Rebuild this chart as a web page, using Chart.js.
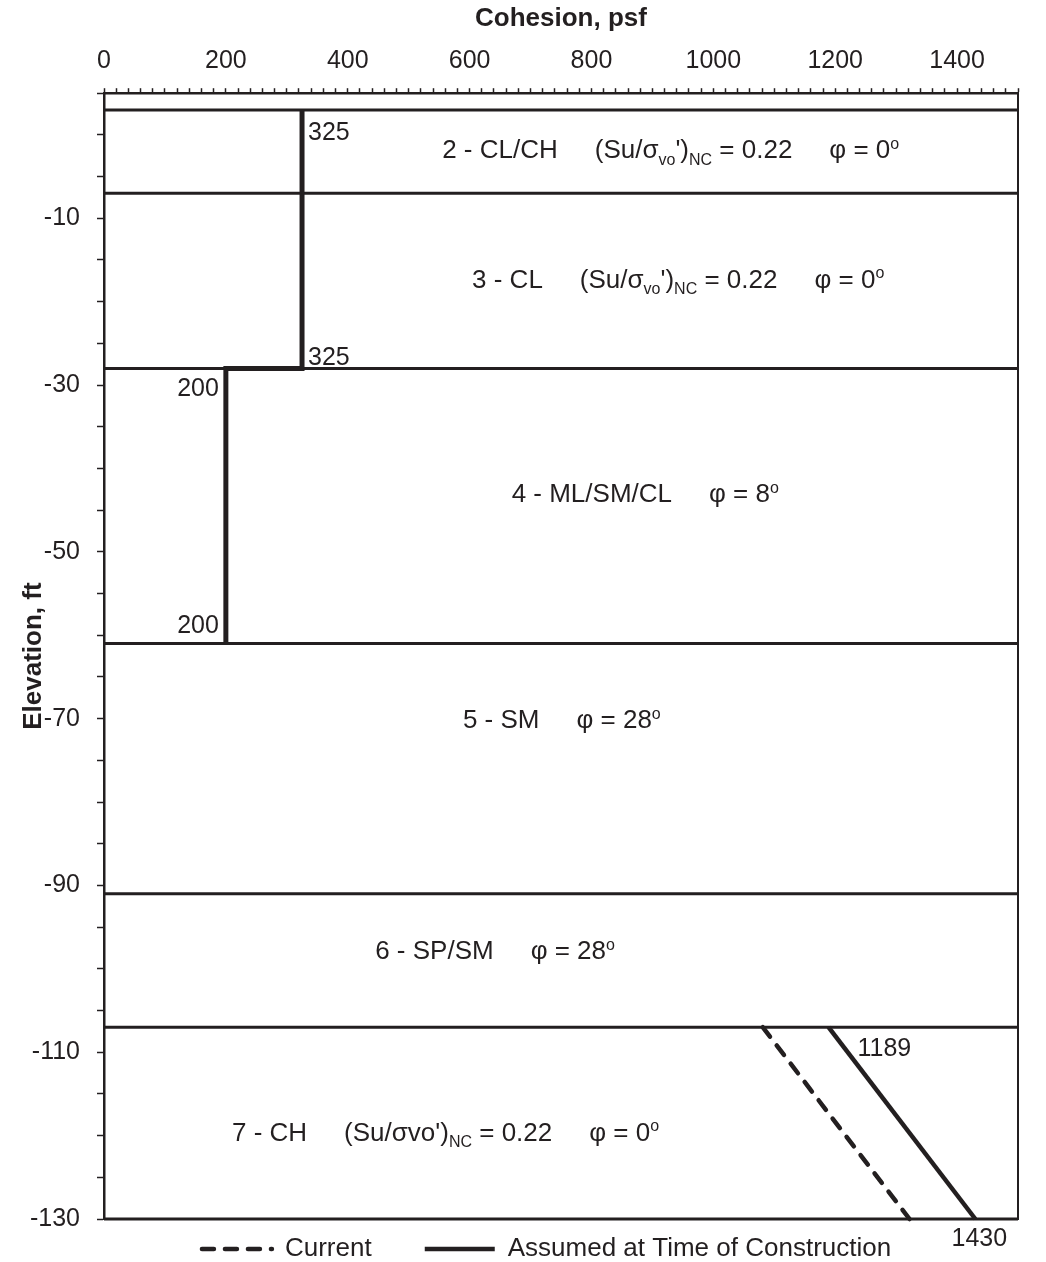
<!DOCTYPE html>
<html>
<head>
<meta charset="utf-8">
<script src="https://cdn.jsdelivr.net/npm/chart.js@4.4.1/dist/chart.umd.min.js"></script>
<style>
  html, body { margin: 0; padding: 0; background: #fff; }
  #wrap { width: 1046px; height: 1262px; position: relative; }
</style>
</head>
<body>
<div id="wrap"><canvas id="cohesionChart"></canvas></div>
<script>
const INK = '#231f20';
const FONT = '"Liberation Sans", Arial, Helvetica, sans-serif';

// axis ranges
const cohesionMin = 0, cohesionMax = 1500;
const elevationMin = -130, elevationMax = 5;

// layer boundaries (elevation, ft)
const layerBoundaries = [3, -7, -28, -61, -91, -107, -130];

// stepped profile through layers 2-4
const upperCohesion = [325, 325, 200, 200];
const upperElevation = [3, -28, -28, -61];

// layer 7 profiles
const currentCohesion = [1081, 1322];
const currentElevation = [-107, -130];
const assumedCohesion = [1189, 1430];
const assumedElevation = [-107, -130];

const seriesNames = ['Current', 'Assumed at Time of Construction'];

// values written next to the profiles
const valueLabelCohesion = [325, 325, 200, 200, 1189, 1430];
const valueLabelElevation = [3, -28, -28, -61, -107, -130];

// layer descriptions: plain string, {s} subscript, {p} superscript, null = wide gap
const layerNames = [
  ['2 - CL/CH', null, '(Su/σ', {s: 'vo'}, "')", {s: 'NC'}, ' = 0.22', null, 'φ = 0', {p: 'o'}],
  ['3 - CL', null, '(Su/σ', {s: 'vo'}, "')", {s: 'NC'}, ' = 0.22', null, 'φ = 0', {p: 'o'}],
  ['4 - ML/SM/CL', null, 'φ = 8', {p: 'o'}],
  ['5 - SM', null, 'φ = 28', {p: 'o'}],
  ['6 - SP/SM', null, 'φ = 28', {p: 'o'}],
  ['7 - CH', null, "(Su/σvo')", {s: 'NC'}, ' = 0.22', null, 'φ = 0', {p: 'o'}]
];
const layerLabelCohesion = [555, 604, 669, 589, 445, 210];
const layerLabelElevation = [-1.7, -17.2, -42.9, -70, -97.7, -119.5];

// pixel offsets / alignment for the value labels
const valueLabelPlacement = [
  {dx: 6, dy: 23, align: 'left'},
  {dx: 6, dy: -10, align: 'left'},
  {dx: -7, dy: 21, align: 'right'},
  {dx: -7, dy: -17, align: 'right'},
  {dx: 29, dy: 22, align: 'left'},
  {dx: 4, dy: 20, align: 'center'}
];

function line(label, xs, ys, extra) {
  return Object.assign({
    label: label,
    data: xs.map((x, i) => ({x: x, y: ys[i]})),
    showLine: true,
    borderColor: INK,
    backgroundColor: INK,
    pointRadius: 0,
    pointHoverRadius: 0,
    borderJoinStyle: 'miter',
    clip: 8
  }, extra);
}

const datasets = [
  line(seriesNames[0], currentCohesion, currentElevation, {borderWidth: 4.5, borderDash: [12, 11], borderCapStyle: 'round'}),
  line(seriesNames[1], assumedCohesion, assumedElevation, {borderWidth: 4.5}),
  line('profile', upperCohesion, upperElevation, {borderWidth: 5})
].concat(layerBoundaries.map(e => line('boundary', [cohesionMin, cohesionMax], [e, e], {borderWidth: 3})));

function drawRuns(ctx, runs, x, baseline, size) {
  let cx = x;
  ctx.textAlign = 'left';
  ctx.textBaseline = 'alphabetic';
  runs.forEach(r => {
    if (r === null) { cx += 37; return; }
    let txt = r, fs = size, shift = 0;
    if (typeof r === 'object') {
      txt = r.s || r.p;
      fs = Math.round(size * 0.62);
      shift = r.s ? size * 0.24 : -size * 0.36;
    }
    ctx.font = fs + 'px ' + FONT;
    ctx.fillText(txt, cx, baseline + shift);
    cx += ctx.measureText(txt).width;
  });
}

const annotations = {
  id: 'annotations',
  afterDatasetsDraw(chart) {
    const ctx = chart.ctx;
    const xs = chart.scales.x, ys = chart.scales.y;
    ctx.save();
    ctx.fillStyle = INK;

    layerNames.forEach((runs, i) => {
      const px = xs.getPixelForValue(layerLabelCohesion[i]);
      const py = ys.getPixelForValue(layerLabelElevation[i]);
      drawRuns(ctx, runs, px, py + 9.3, 26);
    });

    ctx.font = '25px ' + FONT;
    ctx.textBaseline = 'middle';
    valueLabelCohesion.forEach((v, i) => {
      const p = valueLabelPlacement[i];
      ctx.textAlign = p.align;
      ctx.fillText(String(v), xs.getPixelForValue(v) + p.dx, ys.getPixelForValue(valueLabelElevation[i]) + p.dy);
    });

    // y axis title
    const ca = chart.chartArea;
    ctx.translate(34, (ca.top + ca.bottom) / 2);
    ctx.rotate(-Math.PI / 2);
    ctx.font = 'bold 26px ' + FONT;
    ctx.textAlign = 'center';
    ctx.textBaseline = 'middle';
    ctx.fillText('Elevation, ft', 0, 0);
    ctx.restore();
  }
};

const defaultLabels = Chart.defaults.plugins.legend.labels.generateLabels;

const config = {
  type: 'scatter',
  data: {datasets: datasets},
  options: {
    responsive: true,
    maintainAspectRatio: false,
    animation: false,
    events: [],
    layout: {padding: {left: 0, right: 28, top: 3, bottom: -10}},
    scales: {
      x: {
        type: 'linear',
        position: 'top',
        min: cohesionMin,
        max: cohesionMax,
        ticks: {
          stepSize: 20,
          autoSkip: false,
          maxRotation: 0,
          padding: 12,
          color: INK,
          font: {family: FONT, size: 25},
          callback: v => (v % 200 === 0 ? String(v) : '')
        },
        grid: {drawOnChartArea: false, drawTicks: true, tickLength: 5, tickColor: INK, tickWidth: 1.5},
        border: {color: INK, width: 2.5},
        title: {
          display: true,
          text: 'Cohesion, psf',
          color: INK,
          font: {family: FONT, size: 26, weight: 'bold'},
          padding: {top: 0, bottom: 0}
        }
      },
      y: {
        type: 'linear',
        position: 'left',
        min: elevationMin,
        max: elevationMax,
        afterFit: s => { s.width = 104; },
        ticks: {
          stepSize: 5,
          autoSkip: false,
          padding: 17,
          color: INK,
          font: {family: FONT, size: 25},
          callback: v => ((v - elevationMin) % 20 === 0 ? String(v) : '')
        },
        grid: {drawOnChartArea: false, drawTicks: true, tickLength: 7, tickColor: INK, tickWidth: 1.5},
        border: {color: INK, width: 2.5}
      },
      yRight: {
        type: 'linear',
        position: 'right',
        min: elevationMin,
        max: elevationMax,
        ticks: {display: false},
        grid: {drawOnChartArea: false, drawTicks: false},
        border: {color: INK, width: 2}
      }
    },
    plugins: {
      tooltip: {enabled: false},
      legend: {
        position: 'bottom',
        fullSize: false,
        labels: {
          usePointStyle: true,
          pointStyle: 'line',
          pointStyleWidth: 70,
          padding: 17,
          color: INK,
          font: {family: FONT, size: 26},
          generateLabels: chart => defaultLabels(chart)
            .filter(item => seriesNames.includes(item.text))
            .map(item => {
              const ds = chart.data.datasets[item.datasetIndex];
              return Object.assign(item, {
                text: item.text === seriesNames[0] ? item.text + '     ' : item.text + '    ',
                lineDash: ds.borderDash || [],
                lineCap: ds.borderCapStyle || 'butt',
                lineWidth: ds.borderWidth,
                strokeStyle: INK
              });
            })
        }
      }
    }
  },
  plugins: [annotations]
};

const cohesionChart = new Chart(document.getElementById('cohesionChart'), config);
</script>
</body>
</html>
